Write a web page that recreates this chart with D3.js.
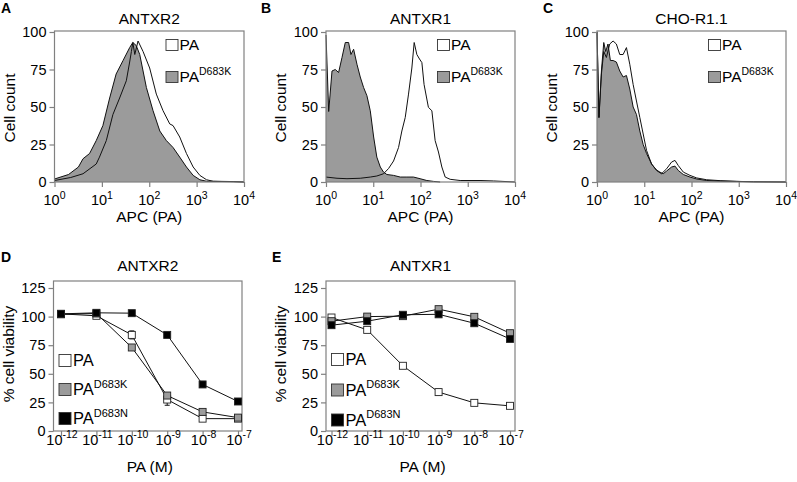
<!DOCTYPE html>
<html><head><meta charset="utf-8">
<script src="https://cdn.jsdelivr.net/npm/d3@7"></script>
<style>
body{margin:0;background:#fff}
svg{display:block}
text{font-family:"Liberation Sans",Arial,Helvetica,sans-serif;fill:#000}
</style>
</head><body>
<svg id="c" width="797" height="482"></svg>
<script>
// ---------- tick labels ----------
const histTickExp = [0, 1, 2, 3, 4];
const histTickVals = [1, 10, 100, 1000, 10000];
const histYTicks = [0, 25, 50, 75, 100];
const doseExp = [-12, -11, -10, -9, -8, -7];
const doses = [1e-12, 1e-11, 1e-10, 1e-9, 1e-8, 1e-7];
const viaYTicks = [0, 25, 50, 75, 100, 125];

// ---------- Panel A: ANTXR2 histograms (APC value, cell count) ----------
const A_K_apc   = [1, 1.98, 3.2, 4.0, 5.5, 7.6, 10.5, 14.6, 20, 28, 38.6, 45, 53, 63, 87, 120, 167, 230, 318, 440, 610, 845, 1170, 1620, 5900, 10000];
const A_K_count = [2, 5, 10, 15.5, 19, 27.6, 37.6, 56, 72, 81, 89.6, 93, 91, 85, 63, 47.6, 34, 27.6, 23, 16.6, 10, 4.4, 1.5, 0.5, 0.2, 0];
const A_PA_apc   = [1, 2.2, 4.0, 7.6, 8.9, 12.4, 17.1, 23.7, 32.8, 38.6, 42, 45, 49.5, 58, 74, 102, 141, 195, 271, 318, 440, 610, 845, 1170, 1620, 2240, 5900, 10000];
const A_PA_count = [1, 3, 5.5, 12, 16.6, 27.6, 45, 56, 67.5, 80, 87, 93, 85, 94, 87, 76, 58.6, 47.6, 38.7, 37.6, 30, 19, 10, 4.4, 1.5, 0.5, 0.3, 0];

// ---------- Panel B: ANTXR1 histograms ----------
const B_K_apc   = [1.0, 1.14, 1.34, 1.57, 1.85, 2.18, 2.56, 3.01, 3.37, 3.84, 4.52, 5.31, 6.25, 7.35, 8.65, 10.2, 11.9, 14.1, 16.5, 19.4, 26.9, 37.3, 51.5, 71, 98, 136, 188, 260];
const B_K_count = [98, 47, 74, 75, 73, 83, 93, 93, 85, 88.5, 78.5, 70, 63, 57.5, 47.5, 30, 16.6, 10, 6.6, 5, 4.4, 3.3, 3.3, 3.3, 2.2, 1, 0.4, 0];
const B_PA_apc   = [1.0, 1.71, 2.78, 5.31, 8.65, 11.9, 16.5, 21.1, 26.9, 34.3, 40.3, 47.5, 55.8, 65.6, 73.5, 83.7, 95.3, 107, 119, 147, 174, 204, 240, 283, 333, 424, 690, 1820, 3500, 10000];
const B_PA_count = [3.3, 2.5, 2.2, 2.5, 3.3, 4, 5.5, 9, 14, 23, 34, 43, 58.6, 76, 93, 85, 82, 79.6, 65, 49.8, 47.5, 27.6, 20, 10, 3.3, 1.8, 1, 1, 0.7, 0];

// ---------- Panel C: CHO-R1.1 histograms ----------
const C_K_apc   = [1.0, 1.10, 1.24, 1.39, 1.53, 1.71, 1.92, 2.19, 2.57, 3.03, 3.57, 4.20, 4.94, 5.82, 6.84, 8.06, 9.49, 11.2, 14.3, 18.2, 21.4, 25.2, 29.7, 37.9, 44.7, 52.5, 67.1, 92.9, 129, 210, 403, 910, 2060, 10000];
const C_K_count = [100, 43, 74, 93, 87, 92, 81, 81, 80, 74, 70, 71, 62, 50, 45, 34, 25, 19, 12, 8, 6.6, 5.5, 7.3, 10, 10.6, 7.7, 5, 3.3, 2, 1, 0.6, 0.4, 0.2, 0];
const C_PA_apc   = [1.0, 1.10, 1.24, 1.39, 1.58, 1.86, 2.19, 2.57, 3.03, 3.57, 4.20, 4.94, 5.82, 6.84, 8.06, 9.49, 11.2, 14.3, 18.2, 23.2, 29.7, 37.9, 44.7, 52.5, 67.1, 92.9, 129, 210, 403, 910, 2060, 10000];
const C_PA_count = [100, 43, 72, 87, 83, 92, 94, 92, 85, 85, 89.6, 78.5, 65, 54, 43, 32, 21, 12, 7.7, 5.5, 8.8, 13.3, 14.4, 11, 6.6, 4.4, 2.7, 1.5, 0.9, 0.4, 0.1, 0];

// ---------- Panel D: ANTXR2 viability (%) ----------
const D_PA     = [102.4, 100.7, 84, 27.5, 10.8, 10.8];
const D_PA_err = [1, 1.5, 3.5, 5, 1, 1];
const D_K      = [102, 102.7, 73, 31, 16.7, 11.7];
const D_K_err  = [1, 1, 2, 2, 2, 1.5];
const D_N      = [102.4, 103.3, 103, 84, 40.7, 25.8];
const D_N_err  = [1, 1, 1, 1.5, 1.5, 1.5];

// ---------- Panel E: ANTXR1 viability (%) ----------
const E_PA     = [99.2, 88.4, 57, 34, 24.6, 22];
const E_PA_err = [1, 1, 2, 2.5, 1, 1];
const E_K      = [96, 100, 100.4, 106.5, 99.8, 85.5];
const E_K_err  = [1, 1, 1, 1.5, 1, 1.5];
const E_N      = [92.5, 96, 101.6, 102, 94.2, 80.5];
const E_N_err  = [1, 1, 1, 1, 1, 1];

const svg = d3.select("#c");
const AXIS = "#808080";
const GRAY = "#9b9b9b";
const FONT = "\"Liberation Sans\",Arial,Helvetica,sans-serif";
const TICK_FS = 14.5;
const LABEL_FS = 15.5;

function zip(a, b) { return a.map((v, i) => [v, b[i]]); }

function supText(g, x, y, base, sup, size, supSize, anchor, rise) {
  const t = g.append("text").attr("x", x).attr("y", y)
    .attr("text-anchor", anchor).style("font-size", size + "px");
  t.append("tspan").text(base);
  t.append("tspan").attr("dy", -rise).style("font-size", supSize + "px").text(sup);
  return t;
}

function panelLetter(x, y, s) {
  svg.append("text").attr("x", x).attr("y", y).style("font-size", "14px")
    .style("font-weight", "bold").text(s);
}

function histPanel(cfg) {
  const g = svg.append("g");
  const x = d3.scaleLog().domain([1, 1e4]).range([cfg.left, cfg.right]);
  const y = d3.scaleLinear().domain([0, 100]).range([182, 32]);
  const top = 31;

  const area = d3.area().x(d => x(d[0])).y0(y(0)).y1(d => y(d[1]));
  const line = d3.line().x(d => x(d[0])).y(d => y(d[1]));
  const kData = zip(cfg.kApc, cfg.kCount);
  const paData = zip(cfg.paApc, cfg.paCount);
  g.append("path").datum(kData).attr("d", area).attr("fill", GRAY).attr("stroke", "none");
  g.append("path").datum(kData).attr("d", line).attr("fill", "none").attr("stroke", "#111").attr("stroke-width", 1);
  g.append("path").datum(paData).attr("d", line).attr("fill", "none").attr("stroke", "#111").attr("stroke-width", 1);

  g.append("rect").attr("x", cfg.left).attr("y", top)
    .attr("width", cfg.right - cfg.left).attr("height", y(0) - top)
    .attr("fill", "none").attr("stroke", AXIS).attr("stroke-width", 1.2);

  const ya = g.append("g").attr("transform", `translate(${cfg.left},0)`)
    .call(d3.axisLeft(y).tickValues(histYTicks).tickSize(5).tickPadding(3));
  ya.select(".domain").remove();
  ya.selectAll("line").attr("stroke", AXIS).attr("stroke-width", 1.2);
  ya.selectAll("text").style("font-size", TICK_FS + "px").style("font-family", FONT).attr("fill", "#000");

  const xa = g.append("g").attr("transform", `translate(0,${y(0)})`)
    .call(d3.axisBottom(x).tickValues(histTickVals).tickSize(5).tickFormat(""));
  xa.select(".domain").remove();
  xa.selectAll("line").attr("stroke", AXIS).attr("stroke-width", 1.2);
  histTickVals.forEach((v, i) => {
    supText(g, x(v), 205, "10", String(histTickExp[i]), TICK_FS, 10.5, "middle", 6.5);
  });

  g.append("text").attr("x", (cfg.left + cfg.right) / 2).attr("y", 221.5)
    .attr("text-anchor", "middle").style("font-size", LABEL_FS + "px").text("APC (PA)");
  g.append("text").attr("transform", `translate(${cfg.left - 40},108) rotate(-90)`)
    .attr("text-anchor", "middle").style("font-size", LABEL_FS + "px").text("Cell count");
  g.append("text").attr("x", (cfg.left + cfg.right) / 2).attr("y", 23.5)
    .attr("text-anchor", "middle").style("font-size", LABEL_FS + "px").text(cfg.title);

  const lx = cfg.left + 111;
  g.append("rect").attr("x", lx + 0.5).attr("y", 39.5).attr("width", 12).attr("height", 11)
    .attr("fill", "#fff").attr("stroke", "#333").attr("stroke-width", 0.9);
  g.append("text").attr("x", lx + 14).attr("y", 49.5).style("font-size", "15.5px").text("PA");
  g.append("rect").attr("x", lx + 0.5).attr("y", 71.5).attr("width", 12).attr("height", 11)
    .attr("fill", GRAY).attr("stroke", "#333").attr("stroke-width", 0.9);
  supText(g, lx + 14, 82, "PA", "D683K", 15.5, 10.5, "start", 7);
}

function viaPanel(cfg) {
  const g = svg.append("g");
  const x = d3.scaleLog().domain([1e-12, 1e-7]).range([cfg.x0, cfg.x1]);
  const y = d3.scaleLinear().domain([0, 125]).range([431, 288]);
  const top = 281;

  g.append("rect").attr("x", cfg.left).attr("y", top)
    .attr("width", cfg.right - cfg.left).attr("height", y(0) - top)
    .attr("fill", "none").attr("stroke", AXIS).attr("stroke-width", 1.2);

  const ya = g.append("g").attr("transform", `translate(${cfg.left},0)`)
    .call(d3.axisLeft(y).tickValues(viaYTicks).tickSize(5).tickPadding(3));
  ya.select(".domain").remove();
  ya.selectAll("line").attr("stroke", AXIS).attr("stroke-width", 1.2);
  ya.selectAll("text").style("font-size", TICK_FS + "px").style("font-family", FONT).attr("fill", "#000");

  const xa = g.append("g").attr("transform", `translate(0,${y(0)})`)
    .call(d3.axisBottom(x).tickValues(doses).tickSize(5).tickFormat(""));
  xa.select(".domain").remove();
  xa.selectAll("line").attr("stroke", AXIS).attr("stroke-width", 1.2);
  doses.forEach((v, i) => {
    supText(g, x(v) + 1, 444.5, "10", String(doseExp[i]), TICK_FS, 10.5, "middle", 6.5);
  });

  g.append("text").attr("x", (cfg.left + cfg.right) / 2 + 2).attr("y", 472)
    .attr("text-anchor", "middle").style("font-size", LABEL_FS + "px").text("PA (M)");
  g.append("text").attr("transform", `translate(${cfg.left - 40},354) rotate(-90)`)
    .attr("text-anchor", "middle").style("font-size", LABEL_FS + "px").text("% cell viability");
  g.append("text").attr("x", (cfg.left + cfg.right) / 2).attr("y", 270.5)
    .attr("text-anchor", "middle").style("font-size", LABEL_FS + "px").text(cfg.title);

  const series = [
    {v: cfg.pa, e: cfg.paErr, fill: "#fff"},
    {v: cfg.k, e: cfg.kErr, fill: GRAY},
    {v: cfg.n, e: cfg.nErr, fill: "#000"}
  ];
  const line = d3.line().x(d => x(d[0])).y(d => y(d[1]));
  series.forEach(s => {
    g.append("path").datum(zip(doses, s.v)).attr("d", line)
      .attr("fill", "none").attr("stroke", "#111").attr("stroke-width", 1);
  });
  series.forEach(s => {
    const eg = g.append("g");
    doses.forEach((d, i) => {
      const cx = x(d);
      eg.append("line").attr("x1", cx).attr("x2", cx)
        .attr("y1", y(s.v[i] - s.e[i])).attr("y2", y(s.v[i] + s.e[i]))
        .attr("stroke", "#111").attr("stroke-width", 1);
      [s.v[i] - s.e[i], s.v[i] + s.e[i]].forEach(vv => {
        eg.append("line").attr("x1", cx - 2.5).attr("x2", cx + 2.5)
          .attr("y1", y(vv)).attr("y2", y(vv)).attr("stroke", "#111").attr("stroke-width", 1);
      });
    });
    g.selectAll(null).data(zip(doses, s.v)).enter().append("rect")
      .attr("x", d => x(d[0]) - 3.5).attr("y", d => y(d[1]) - 3.5)
      .attr("width", 7).attr("height", 7)
      .attr("fill", s.fill).attr("stroke", "#222").attr("stroke-width", 0.9);
  });

  const lx = cfg.left + 5.5;
  const rows = [
    {y: cfg.legY[0], fill: "#fff", sup: null},
    {y: cfg.legY[1], fill: GRAY, sup: "D683K"},
    {y: cfg.legY[2], fill: "#000", sup: "D683N"}
  ];
  rows.forEach(r => {
    g.append("rect").attr("x", lx).attr("y", r.y).attr("width", 12).attr("height", 12)
      .attr("fill", r.fill).attr("stroke", "#333").attr("stroke-width", 0.9);
    if (r.sup) supText(g, lx + 14, r.y + 11.5, "PA", r.sup, 16.5, 11, "start", 7.5);
    else g.append("text").attr("x", lx + 14).attr("y", r.y + 11.5).style("font-size", "16.5px").text("PA");
  });
}

histPanel({left: 54.5, right: 244, title: "ANTXR2",
  kApc: A_K_apc, kCount: A_K_count, paApc: A_PA_apc, paCount: A_PA_count});
histPanel({left: 326, right: 515, title: "ANTXR1",
  kApc: B_K_apc, kCount: B_K_count, paApc: B_PA_apc, paCount: B_PA_count});
histPanel({left: 597, right: 786, title: "CHO-R1.1",
  kApc: C_K_apc, kCount: C_K_count, paApc: C_PA_apc, paCount: C_PA_count});

viaPanel({left: 53.5, right: 242, x0: 61, x1: 238, title: "ANTXR2",
  pa: D_PA, paErr: D_PA_err, k: D_K, kErr: D_K_err, n: D_N, nErr: D_N_err,
  legY: [354.5, 383.5, 412.5]});
viaPanel({left: 326, right: 515, x0: 331.5, x1: 510, title: "ANTXR1",
  pa: E_PA, paErr: E_PA_err, k: E_K, kErr: E_K_err, n: E_N, nErr: E_N_err,
  legY: [353.5, 384, 414]});

panelLetter(1, 13, "A");
panelLetter(261, 13, "B");
panelLetter(543, 13, "C");
panelLetter(1, 262, "D");
panelLetter(272, 262, "E");
</script>
</body></html>
